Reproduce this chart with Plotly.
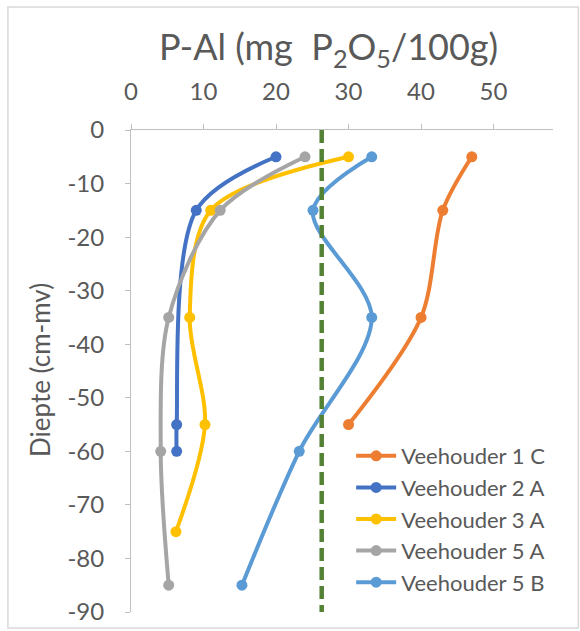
import plotly.graph_objects as go

# ---- data ----
depth_1C = [-5, -15, -35, -55]
pal_1C = [47, 43, 40, 30]

depth_2A = [-5, -15, -55, -60]
pal_2A = [20, 9, 6.3, 6.3]

depth_3A = [-5, -15, -35, -55, -75]
pal_3A = [30, 11, 8.1, 10.2, 6.2]

depth_5A = [-5, -15, -35, -60, -85]
pal_5A = [24, 12.3, 5.2, 4.1, 5.2]

depth_5B = [-5, -15, -35, -60, -85]
pal_5B = [33.2, 25.1, 33.2, 23.2, 15.3]

series_names = ["Veehouder 1 C", "Veehouder 2 A", "Veehouder 3 A", "Veehouder 5 A", "Veehouder 5 B"]
reference_value = 26.3
x_ticks = [0, 10, 20, 30, 40, 50]
y_ticks = [0, -10, -20, -30, -40, -50, -60, -70, -80, -90]

colors = ["#ED7D31", "#4472C4", "#FFC000", "#A5A5A5", "#5B9BD5"]
series = [(pal_1C, depth_1C), (pal_2A, depth_2A), (pal_3A, depth_3A), (pal_5A, depth_5A), (pal_5B, depth_5B)]

FONT = "Lato"
GREY = "#595959"

W, H = 580, 631
L, T = 131, 130
R = W - 552.7
B = H - 612
PW, PH = W - L - R, H - T - B


def px_x(p):
    return (p - L) / PW


def px_y(p):
    return (H - B - p) / PH


fig = go.Figure()
for (xv, yv), name, c in zip(series, series_names, colors):
    fig.add_trace(go.Scatter(
        x=xv, y=yv, name=name, mode="lines+markers",
        line=dict(color=c, width=4, shape="spline", smoothing=0.9),
        marker=dict(color=c, size=11),
    ))

fig.add_trace(go.Scatter(
    x=[reference_value, reference_value], y=[0, -90], mode="lines",
    line=dict(color="#548235", width=4.5, dash="13px,6px"), showlegend=False, hoverinfo="skip",
))

fig.update_layout(
    width=W, height=H,
    margin=dict(l=L, r=R, t=T, b=B, autoexpand=False),
    paper_bgcolor="white", plot_bgcolor="white",
    font=dict(family=FONT, color=GREY, size=24),
    showlegend=True,
    legend=dict(x=px_x(351), y=px_y(435), xanchor="left", yanchor="top",
                font=dict(size=22, color=GREY, family=FONT),
                bgcolor="rgba(255,255,255,0)", itemwidth=40),
    xaxis=dict(side="top", range=[0, 58.2], tickvals=x_ticks, ticktext=[str(v) for v in x_ticks],
               showgrid=False, zeroline=False, showline=True, linecolor="#BFBFBF", linewidth=1,
               ticks="outside", ticklen=5, tickcolor="#BFBFBF", automargin=False,
               tickfont=dict(size=24, color=GREY), ticklabelstandoff=14),
    yaxis=dict(range=[-90, 0], tickvals=y_ticks, ticktext=[str(v) for v in y_ticks],
               showgrid=False, zeroline=False, showline=True, linecolor="#BFBFBF", linewidth=1,
               ticks="outside", ticklen=5, tickcolor="#BFBFBF", automargin=False,
               tickfont=dict(size=24, color=GREY), ticklabelstandoff=16),
    annotations=[
        dict(text="P-Al (mg  P<sub>2</sub>O<sub>5</sub>/100g)", xref="paper", yref="paper",
             x=px_x(328), y=px_y(49), xanchor="center", yanchor="middle",
             showarrow=False, font=dict(size=36, color=GREY, family=FONT)),
        dict(text="Diepte (cm-mv)", xref="paper", yref="paper", textangle=-90,
             x=px_x(40), y=px_y(370), xanchor="center", yanchor="middle",
             showarrow=False, font=dict(size=26, color=GREY, family=FONT)),
    ],
    shapes=[dict(type="rect", xref="paper", yref="paper",
                 x0=px_x(8), x1=px_x(578),
                 y0=px_y(628), y1=px_y(7),
                 line=dict(color="#D9D9D9", width=1.5), fillcolor="rgba(0,0,0,0)", layer="below")],
)

fig.write_html("out.html", config={"displayModeBar": False},
               post_script="document.body.style.margin='0';document.body.style.overflow='hidden';")
